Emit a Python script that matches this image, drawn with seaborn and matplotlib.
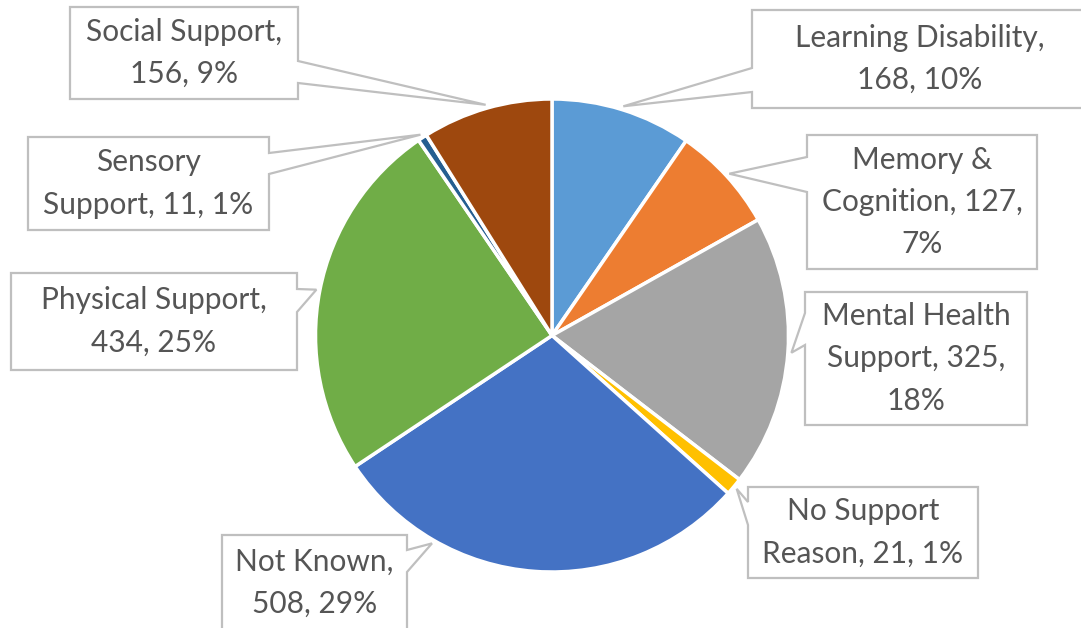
import numpy as np
import matplotlib
matplotlib.use("Agg")
import matplotlib.pyplot as plt
from matplotlib.patches import Polygon
import seaborn as sns

# data
categories = ["Learning Disability", "Memory & Cognition", "Mental Health Support",
              "No Support Reason", "Not Known", "Physical Support",
              "Sensory Support", "Social Support"]
counts = [168, 127, 325, 21, 508, 434, 11, 156]
pct_labels = ["10%", "7%", "18%", "1%", "29%", "25%", "1%", "9%"]
colors = ["#5B9BD5", "#ED7D31", "#A5A5A5", "#FFC000",
          "#4472C4", "#70AD47", "#255E91", "#9E480E"]

# how Excel wrapped each callout text
wraps = [
    "Learning Disability,\n{n}, {p}",
    "Memory &\nCognition, {n},\n{p}",
    "Mental Health\nSupport, {n},\n{p}",
    "No Support\nReason, {n}, {p}",
    "Not Known,\n{n}, {p}",
    "Physical Support,\n{n}, {p}",
    "Sensory\nSupport, {n}, {p}",
    "Social Support,\n{n}, {p}",
]

# callout layout in reference pixels: box (l, t, r, b), side of pointer, pointer base y0/y1
boxes = [
    ((752, 10, 1088, 108), "left", 68, 92),
    ((807, 135, 1037, 269), "left", 157, 192),
    ((805, 292, 1027, 425), "left", 313, 345),
    ((748, 487, 978, 578), "left", 502, 525),
    ((222, 535, 407, 631), "right", 550, 572),
    ((11, 273, 297, 370), "right", 289, 312),
    ((28, 137, 269, 230), "right", 153, 174),
    ((70, 7, 298, 99), "right", 61, 83),
]
anchor_override = {4: 210.0}  # Not Known pointer sits off the slice middle

W, H = 1081, 628
CX, CY, R = 552, 335.5, 236.5


def px(x, y):
    return (x - CX) / R, (CY - y) / R


def main():
    sns.set_theme(style="white")
    plt.rcParams["font.family"] = ["Lato", "DejaVu Sans"]

    fig = plt.figure(figsize=(W / 100, H / 100), dpi=100)
    ax = fig.add_axes([0, 0, 1, 1])
    ax.pie(counts, colors=colors, startangle=90, counterclock=False,
           radius=1, wedgeprops=dict(edgecolor="white", linewidth=2.5))
    x0, y1 = px(0, 0)
    x1, y0 = px(W, H)
    ax.set_xlim(x0, x1)
    ax.set_ylim(y0, y1)
    ax.set_aspect("auto")
    ax.axis("off")

    total = sum(counts)
    cum = np.cumsum([0] + counts)
    for i, (name, n, p) in enumerate(zip(categories, counts, pct_labels)):
        mid = (cum[i] + n / 2) / total * 360
        ang = np.radians(anchor_override.get(i, mid))
        tip = (1.015 * np.sin(ang), 1.015 * np.cos(ang))

        (l, t, r, b), side, ya, yb = boxes[i]
        if side == "right":
            pts = [px(l, t), px(r, t), px(r, ya), tip, px(r, yb), px(r, b), px(l, b)]
        else:
            pts = [px(l, t), px(r, t), px(r, b), px(l, b), px(l, yb), tip, px(l, ya)]
        ax.add_patch(Polygon(pts, closed=True, facecolor="white",
                             edgecolor="#BFBFBF", linewidth=1.6,
                             joinstyle="miter", zorder=5, clip_on=False))
        tx, ty = px((l + r) / 2, (t + b) / 2)
        ax.text(tx, ty, wraps[i].format(n=n, p=p), ha="center", va="center",
                ma="center", fontsize=21.5, color="#555555", linespacing=1.63,
                zorder=6)

    fig.savefig("out.png", dpi=100)
    plt.close(fig)


if __name__ == "__main__":
    main()
